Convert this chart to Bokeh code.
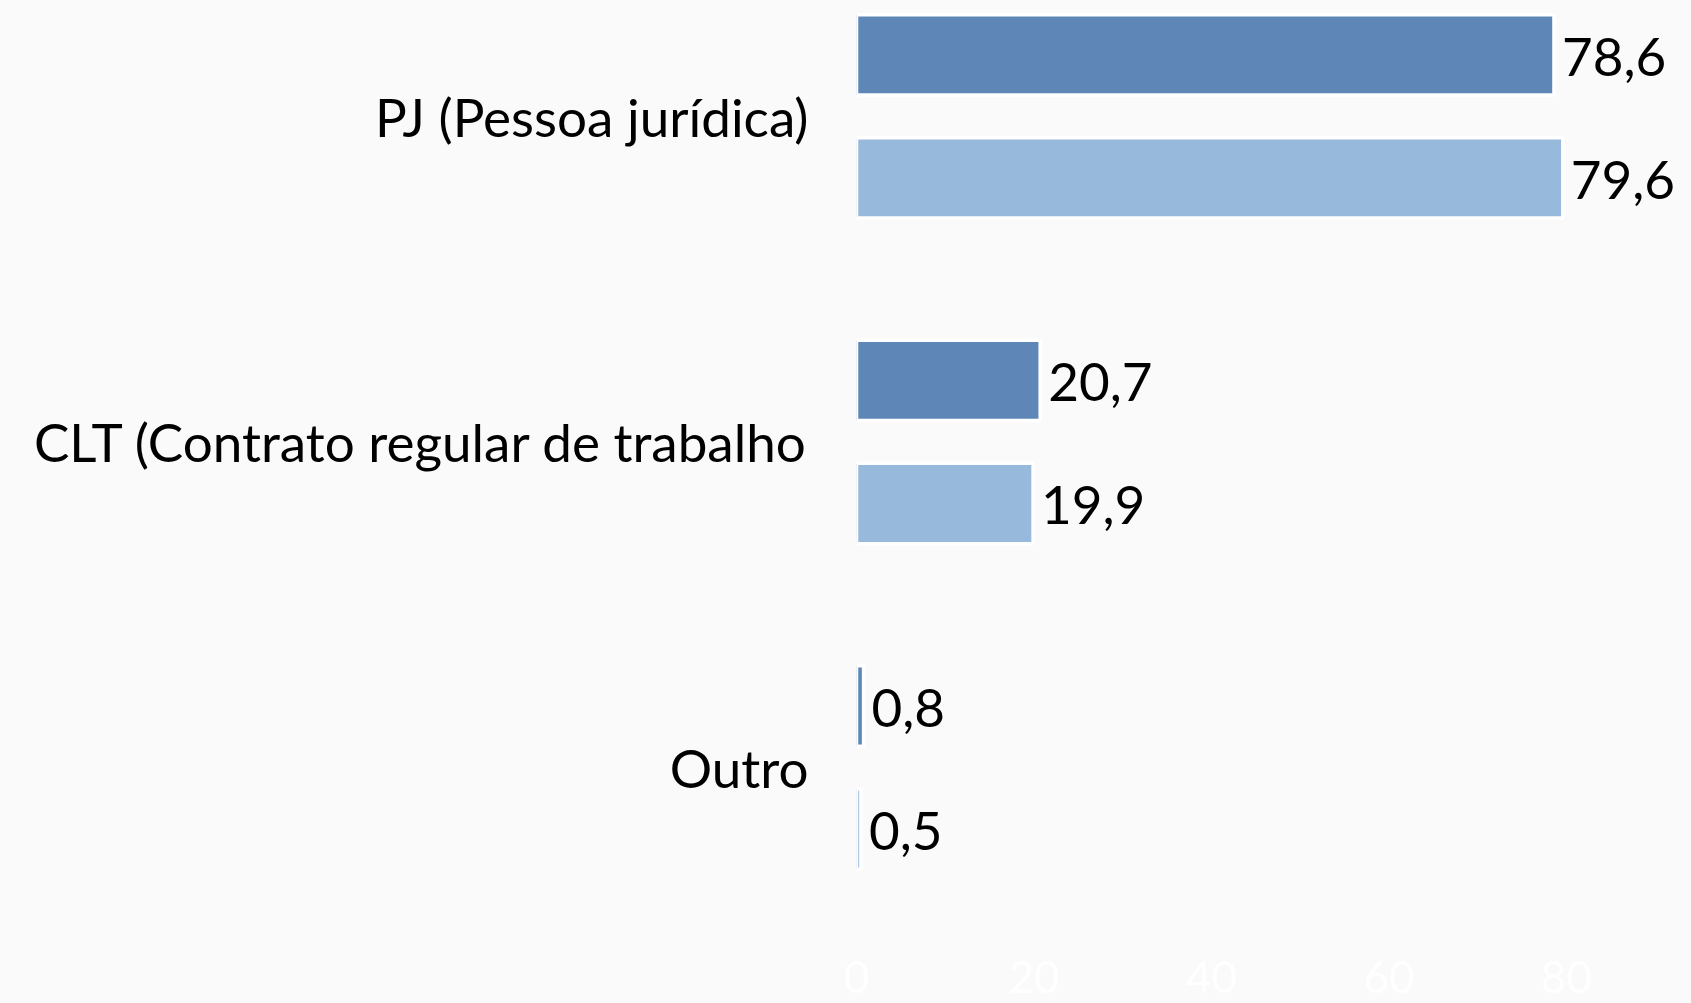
from bokeh.plotting import figure
from bokeh.models import ColumnDataSource, FixedTicker, Range1d
from bokeh.core.properties import value
from bokeh.embed import file_html
from bokeh.resources import INLINE

categories = ["PJ (Pessoa jurídica)", "CLT (Contrato regular de trabalho", "Outro"]
positions = [2, 1, 0]
series_a = [78.6, 20.7, 0.8]
series_b = [79.6, 19.9, 0.5]
labels_a = ["78,6", "20,7", "0,8"]
labels_b = ["79,6", "19,9", "0,5"]
x_ticks = [0, 20, 40, 60, 80]

color_a = "#5e87b8"
color_b = "#97b9dc"
bg = "#fafafa"
font = "Lato"

off = 0.189
bar_h = 0.247

src_a = ColumnDataSource(dict(y=[p + off for p in positions], x=series_a, lab=labels_a))
src_b = ColumnDataSource(dict(y=[p - off for p in positions], x=series_b, lab=labels_b))

p = figure(width=1691, height=1003, output_backend="svg", toolbar_location=None,
           x_range=Range1d(0, 94.1), y_range=Range1d(-0.464, 2.356),
           min_border_left=856, min_border_right=0, min_border_top=0, min_border_bottom=85)
p.background_fill_color = bg
p.border_fill_color = bg
p.outline_line_color = None
p.xgrid.grid_line_color = None
p.ygrid.grid_line_color = None

p.hbar(y="y", right="x", left=0, height=bar_h, source=src_a, fill_color=color_a,
       line_color="white", line_width=3.5)
p.hbar(y="y", right="x", left=0, height=bar_h, source=src_b, fill_color=color_b,
       line_color="white", line_width=3.5)

for src in (src_a, src_b):
    p.text(x="x", y="y", text="lab", source=src, x_offset=8, y_offset=2, text_baseline="middle",
           text_align="left", text_font=value(font), text_font_size="53px", text_color="black")

# y axis
p.yaxis.ticker = FixedTicker(ticks=positions)
p.yaxis.major_label_overrides = {pos: cat for pos, cat in zip(positions, categories)}
p.yaxis.axis_line_color = None
p.yaxis.major_tick_line_color = None
p.yaxis.minor_tick_line_color = None
p.yaxis.major_tick_out = 0
p.yaxis.major_tick_in = 0
p.yaxis.major_label_standoff = 48
p.yaxis.major_label_text_font = font
p.yaxis.major_label_text_font_size = "53px"
p.yaxis.major_label_text_color = "black"

# x axis
p.xaxis.ticker = FixedTicker(ticks=x_ticks)
p.xaxis.axis_line_color = None
p.xaxis.major_tick_line_color = None
p.xaxis.minor_tick_line_color = None
p.xaxis.major_tick_out = 0
p.xaxis.major_tick_in = 0
p.xaxis.major_label_standoff = 42
p.xaxis.major_label_text_line_height = 0.5
p.xaxis.major_label_text_font = font
p.xaxis.major_label_text_font_size = "44px"
p.xaxis.major_label_text_color = "white"

html = file_html(p, INLINE)
html = html.replace("</head>", "<style>html,body{background:#fafafa;margin:0;overflow:hidden;}</style></head>", 1)
open("out.html", "w").write(html)
